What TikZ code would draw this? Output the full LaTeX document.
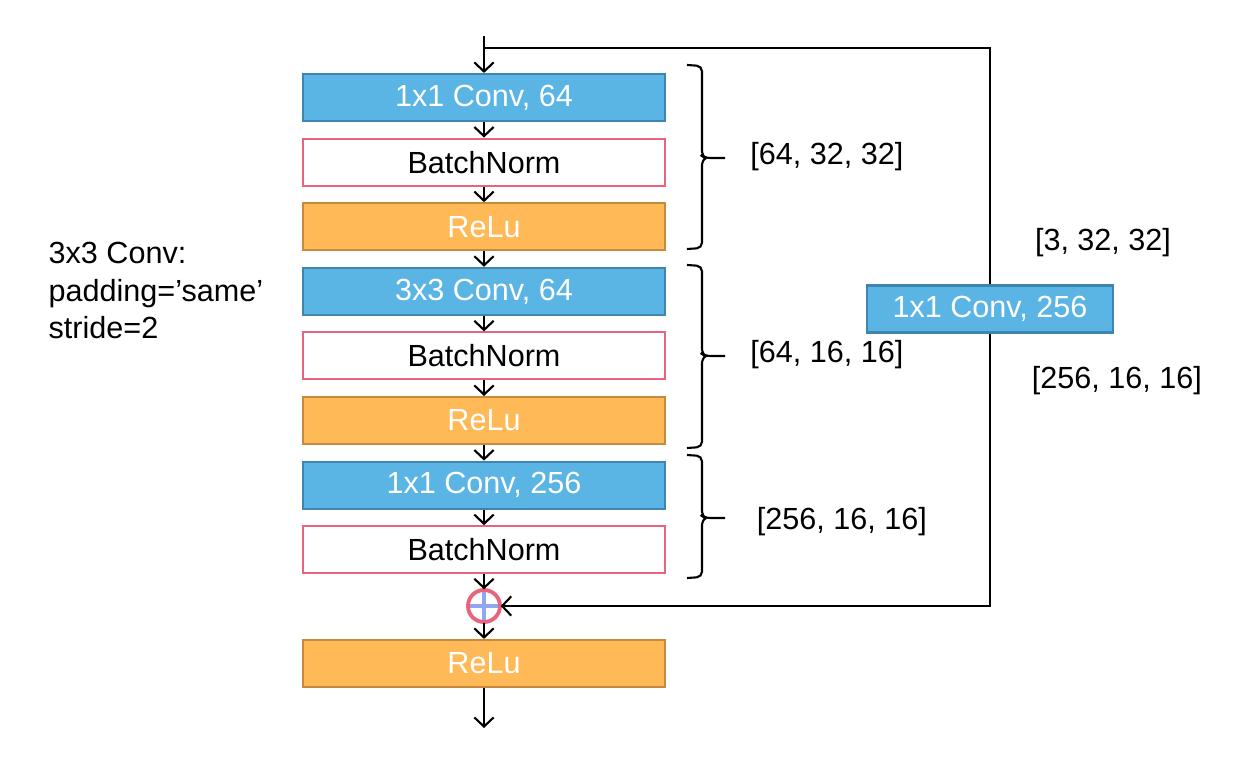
\documentclass[tikz,border=0pt]{standalone}
\usepackage{fontspec}
\setmainfont{Liberation Sans}
\usepackage{tikz}
\usetikzlibrary{positioning,arrows.meta}
\definecolor{convblue}{HTML}{5AB4E4}
\definecolor{convedge}{HTML}{3E86B0}
\definecolor{bnedge}{HTML}{E8637C}
\definecolor{reluorange}{HTML}{FFB957}
\definecolor{reluedge}{HTML}{C58A3C}
\definecolor{crossblue}{HTML}{8FA6F2}
% brace: x, top y, tip y, bottom y
\newcommand{\sizebrace}[4]{%
  \draw[line width=0.6pt,rounded corners=1.5pt]
    (#1,#2) -- (#1+0.15,#2-0.01) -- (#1+0.15,#3+0.02) -- (#1+0.18,#3) -- (#1+0.38,#3);
  \draw[line width=0.6pt,rounded corners=1.5pt]
    (#1+0.18,#3) -- (#1+0.15,#3-0.02) -- (#1+0.15,#4+0.01) -- (#1,#4);
}

\begin{document}
\begin{tikzpicture}[
  node distance=0.155cm,
  >={Straight Barb[length=2.6pt,width=5.5pt]},
  every node/.style={font=\fontsize{8.7}{10.7}\selectfont},
  layer/.style={draw,minimum width=3.62cm,minimum height=0.47cm,inner sep=0pt,line width=0.6pt},
  convnode/.style={layer,fill=convblue,draw=convedge,text=white},
  bnnode/.style={layer,fill=white,draw=bnedge},
  relunode/.style={layer,fill=reluorange,draw=reluedge,text=white},
  ]
  \useasboundingbox (0,0) rectangle (12.4,-7.7);
  %Nodes
  \node[convnode](c1) at (4.84,-0.975){1x1 Conv, 64};
  \node[bnnode](b1)[below=of c1]{BatchNorm};
  \node[relunode](r1)[below=of b1]{ReLu};
  \node[convnode](c2)[below=of r1]{3x3 Conv, 64};
  \node[bnnode](b2)[below=of c2]{BatchNorm};
  \node[relunode](r2)[below=of b2]{ReLu};
  \node[convnode](c3)[below=of r2]{1x1 Conv, 256};
  \node[bnnode](b3)[below=of c3]{BatchNorm};
  \node[circle,minimum size=0.32cm,inner sep=0pt](add) at (4.84,-6.06){};
  \node[relunode](r3) at (4.84,-6.635){ReLu};
  \node[convnode,minimum width=2.46cm](sc) at (9.9,-3.09){1x1 Conv, 256};
  \coordinate(in) at (4.84,-0.36);
  \coordinate(split) at (4.84,-0.48);
  \coordinate(out) at (4.84,-7.28);
  \coordinate(tr) at (9.9,-0.48);
  \coordinate(br) at (9.9,-6.06);
  %Labels
  \node[align=left,anchor=west,inner sep=0pt](note) at (0.48,-2.905){3x3 Conv:\\padding=’same’\\stride=2};
  \node(d1) at (8.27,-1.57){[64, 32, 32]};
  \node(d2) at (8.27,-3.55){[64, 16, 16]};
  \node(d3) at (8.42,-5.22){[256, 16, 16]};
  \node(d4) at (11.03,-2.43){[3, 32, 32]};
  \node(d5) at (11.17,-3.81){[256, 16, 16]};
  %Adder
  \draw[crossblue,line width=1.1pt] (add.north) -- (add.south) (add.west) -- (add.east);
  \draw[bnedge,line width=1.1pt] (add) circle (0.16cm);
  %Lines
  \path[->, line width=0.6pt]
    (in) edge (c1)
    (c1) edge (b1)
    (b1) edge (r1)
    (r1) edge (c2)
    (c2) edge (b2)
    (b2) edge (r2)
    (r2) edge (c3)
    (c3) edge (b3)
    (b3) edge (add)
    (add) edge (r3)
    (r3) edge (out)
    ;
  % Shortcut
  \draw[line width=0.6pt] (split) -- (tr) -- (sc);
  \draw[->, line width=0.6pt] (sc) -- (br) -- (add);
  %Braces
  \sizebrace{6.87}{-0.65}{-1.58}{-2.49}
  \sizebrace{6.87}{-2.65}{-3.56}{-4.48}
  \sizebrace{6.87}{-4.55}{-5.18}{-5.78}
\end{tikzpicture}
\end{document}
